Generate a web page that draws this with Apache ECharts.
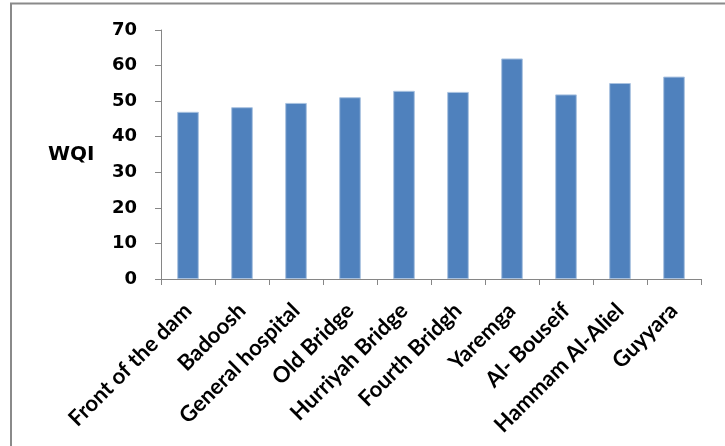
<!DOCTYPE html>
<html>
<head>
<meta charset="utf-8">
<script src="https://cdn.jsdelivr.net/npm/echarts@6/dist/echarts.min.js"></script>
<style>
html,body{margin:0;padding:0;background:#fff;}
#c{width:725px;height:446px;}
</style>
</head>
<body>
<div id="c"></div>
<script>
const categories = ["Front of the dam","Badoosh","General hospital","Old Bridge","Hurriyah Bridge","Fourth Bridgh","Yaremga","Al- Bouseif","Hammam Al-Aliel","Guyyara"];
const wqiValues = [47, 48.3, 49.5, 51.1, 52.9, 52.6, 62, 51.9, 55.1, 56.9];
const yTicks = [0, 10, 20, 30, 40, 50, 60, 70];
const yTitle = "WQI";

const chart = echarts.init(document.getElementById('c'), null, {renderer:'canvas'});
chart.setOption({
  backgroundColor: '#fff',
  animation: false,
  graphic: [{
    type: 'rect', shape: {x: 11, y: 3.5, width: 800, height: 600},
    style: {fill: 'none', stroke: '#8a8a8a', lineWidth: 2}, silent: true
  }, {
    type: 'text', left: 48, top: 145,
    style: {text: yTitle, font: 'bold 20px "DejaVu Sans"', fill: '#000'}
  }],
  grid: {left: 161, right: 24, top: 30, bottom: 167},
  xAxis: {
    type: 'category', data: categories,
    axisLine: {lineStyle: {color: '#868686', width: 1}},
    axisTick: {show: true, length: 6, lineStyle: {color: '#868686'}},
    axisLabel: {rotate: 45, interval: 0, margin: 28, color: '#000',
      fontFamily: 'Lato', fontWeight: 'bold', fontSize: 22}
  },
  yAxis: {
    type: 'value', min: yTicks[0], max: yTicks[yTicks.length-1], interval: 10,
    axisLine: {show: true, lineStyle: {color: '#868686', width: 1}},
    axisTick: {show: true, length: 6, lineStyle: {color: '#868686'}},
    splitLine: {show: false},
    axisLabel: {margin: 24, color: '#000', fontFamily: 'DejaVu Sans', fontWeight: 'bold', fontSize: 18}
  },
  series: [{
    type: 'bar', data: wqiValues, barWidth: '40%',
    itemStyle: {color: '#4f81bd', borderColor: '#a9c2e0', borderWidth: 1}
  }]
});
</script>
</body>
</html>
